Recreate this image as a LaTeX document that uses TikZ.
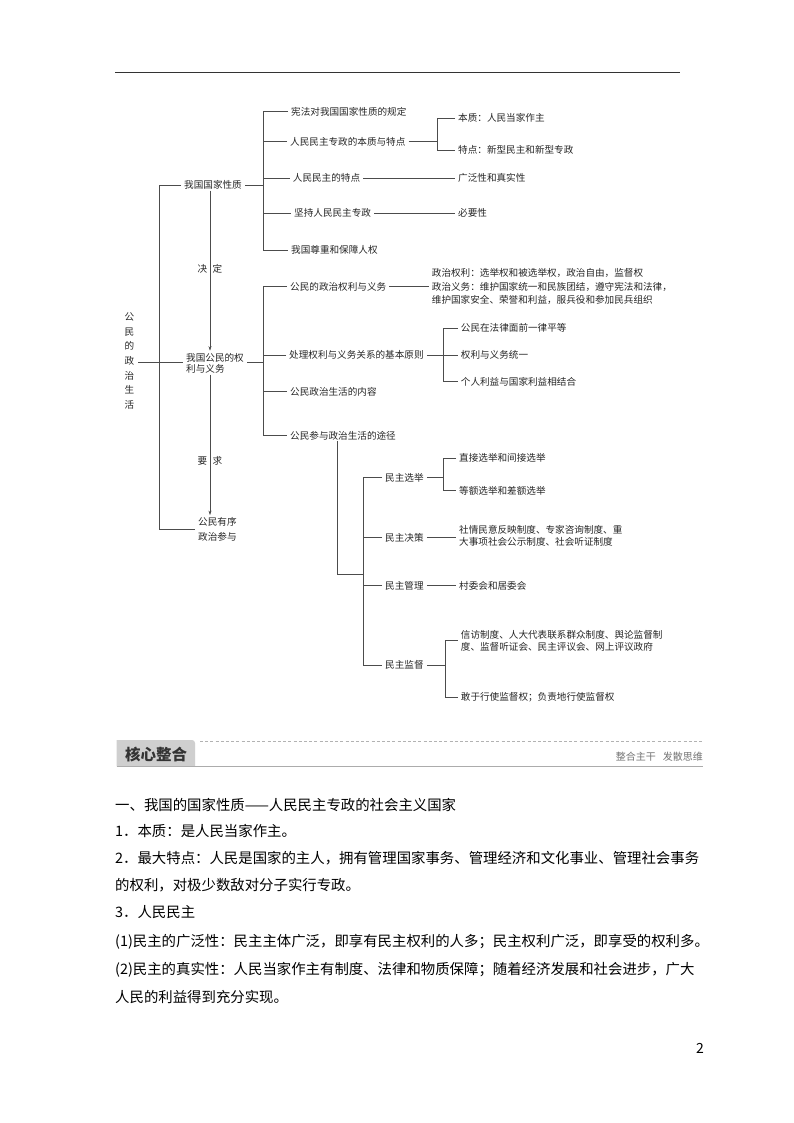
\documentclass[tikz,border=0pt]{standalone}
\usepackage{fontspec}
\setmainfont{Noto Sans CJK SC}
\usetikzlibrary{arrows.meta}
\newcommand\treefont{\fontsize{9.6}{11.7}\selectfont}
\tikzset{
  tx/.style={anchor=west, inner xsep=3pt, inner ysep=1pt, font=\treefont, align=left, text=black!85},
  ln/.style={draw=black!70, line width=0.5pt},
  arr/.style={ln, -{Stealth[length=4.5pt,width=3pt]}},
  bt/.style={anchor=west, inner sep=0pt, font=\fontsize{14.4}{17}\selectfont, text=black},
}
\begin{document}
\begin{tikzpicture}[x=1pt,y=-1pt]
\useasboundingbox (0,0) rectangle (794,1123);
\fill[white] (0,0) rectangle (794,1123);
% top rule
\draw[line width=0.7pt, black!80] (115,72) -- (680,72);

% ---------- tree ----------
\node[font=\fontsize{9.6}{14.7}\selectfont, align=center, inner xsep=4pt, inner ysep=1pt, text=black!85] (root) at (129.3,361) {公\\民\\的\\政\\治\\生\\活};

\node[tx] (xz) at (181,185) {我国国家性质};
\node[tx, font=\fontsize{9.6}{11.7}\selectfont] (qw) at (183,363.2) {我国公民的权\\利与义务};
\node[tx, font=\fontsize{9.6}{15}\selectfont] (cy) at (195,529.2) {公民有序\\政治参与};

\coordinate (L) at (159.3,0);
\draw[ln] (xz.west) -- (xz.west -| L) -- (cy.west -| L) -- (cy.west);
\draw[ln] (root.east |- 0,362.3) -- (qw.west |- 0,362.3);

\coordinate (A) at (210,0);
\draw[arr] (xz.south -| A) -- ([yshift=1pt]qw.north -| A);
\draw[arr] (qw.south -| A) -- ([yshift=1pt]cy.north -| A);
\node[font=\treefont, text=black!85, inner sep=0pt] (jd) at (210,269) {决\hspace{5.4pt}定};
\node[font=\treefont, text=black!85, inner sep=0pt] (yq) at (210,460.7) {要\hspace{5.4pt}求};

% branch 1: national nature
\coordinate (B1) at (263.3,0);
\node[tx] (c1) at (288,111.7) {宪法对我国国家性质的规定};
\node[tx] (c2) at (287,141.7) {人民民主专政的本质与特点};
\node[tx] (c3) at (289.7,178) {人民民主的特点};
\node[tx] (c4) at (291,213) {坚持人民民主专政};
\node[tx] (c5) at (288,250) {我国尊重和保障人权};
\draw[ln] (c1.west) -- (c1.west -| B1) -- (c5.west -| B1) -- (c5.west);
\foreach \n in {c2,c3,c4} \draw[ln] (\n.west) -- (\n.west -| B1);
\draw[ln] (xz.east) -- (xz.east -| B1);

\coordinate (B2) at (437,0);
\node[tx] (d1) at (455,118) {本质：人民当家作主};
\node[tx] (d2) at (455,150) {特点：新型民主和新型专政};
\draw[ln] (c2.east) -- (c2.east -| B2);
\draw[ln] (d1.west) -- (d1.west -| B2) -- (d2.west -| B2) -- (d2.west);

\node[tx] (e1) at (455,178) {广泛性和真实性};
\node[tx] (e2) at (455,213) {必要性};
\draw[ln] (c3.east) -- (e1.west);
\draw[ln] (c4.east) -- (e2.west);

% branch 2: rights and duties
\coordinate (B3) at (263.3,0);
\node[tx] (f1) at (287,286.7) {公民的政治权利与义务};
\node[tx] (f2) at (286,355) {处理权利与义务关系的基本原则};
\node[tx] (f3) at (287,391.7) {公民政治生活的内容};
\node[tx] (f4) at (287,435.7) {公民参与政治生活的途径};
\draw[ln] (f1.west) -- (f1.west -| B3) -- (f4.west -| B3) -- (f4.west);
\foreach \n in {f2,f3} \draw[ln] (\n.west) -- (\n.west -| B3);
\draw[ln] (qw.east |- 0,362.3) -- (B3 |- 0,362.3);

\node[tx, font=\fontsize{9.6}{13.3}\selectfont] (g1) at (428.7,286.7) {政治权利：选举权和被选举权，政治自由，监督权\\政治义务：维护国家统一和民族团结，遵守宪法和法律，\\维护国家安全、荣誉和利益，服兵役和参加民兵组织};
\draw[ln] (f1.east) -- (f1.east -| g1.west);

\coordinate (B4) at (443,0);
\node[tx] (h1) at (457.7,328.3) {公民在法律面前一律平等};
\node[tx] (h2) at (457.7,355) {权利与义务统一};
\node[tx] (h3) at (457.7,381.7) {个人利益与国家利益相结合};
\draw[ln] (f2.east) -- (f2.east -| B4);
\draw[ln] (h1.west) -- (h1.west -| B4) -- (h3.west -| B4) -- (h3.west);
\draw[ln] (h2.west) -- (h2.west -| B4);

% ways of participation
\coordinate (V) at (337.5,0);
\coordinate (q) at (363,574.3);
\draw[ln] (f4.south -| V) -- (V |- q) -- (q);

\node[tx] (i1) at (382,477.7) {民主选举};
\node[tx] (i2) at (382,537.7) {民主决策};
\node[tx] (i3) at (382,585.7) {民主管理};
\node[tx] (i4) at (382,665) {民主监督};
\draw[ln] (i1.west) -- (i1.west -| q) -- (i4.west -| q) -- (i4.west);
\foreach \n in {i2,i3} \draw[ln] (\n.west) -- (\n.west -| q);

\coordinate (B6) at (443.3,0);
\node[tx] (j1) at (456,458.3) {直接选举和间接选举};
\node[tx] (j2) at (456,490.7) {等额选举和差额选举};
\draw[ln] (i1.east) -- (i1.east -| B6);
\draw[ln] (j1.west) -- (j1.west -| B6) -- (j2.west -| B6) -- (j2.west);

\node[tx] (k1) at (456,535.8) {社情民意反映制度、专家咨询制度、重\\大事项社会公示制度、社会听证制度};
\draw[ln] (i2.east) -- (i2.east -| k1.west);

\node[tx] (l1) at (456,585.7) {村委会和居委会};
\draw[ln] (i3.east) -- (l1.west);

\coordinate (B7) at (445,0);
\node[tx] (m1) at (457.7,640.8) {信访制度、人大代表联系群众制度、舆论监督制\\度、监督听证会、民主评议会、网上评议政府};
\node[tx] (m2) at (457.7,697.3) {敢于行使监督权；负责地行使监督权};
\draw[ln] (i4.east) -- (i4.east -| B7);
\draw[ln] (m1.west |- 0,640) -- (B7 |- 0,640) -- (m2.west -| B7) -- (m2.west);

% ---------- banner ----------
\fill[gray!38] (116.7,766) -- (116.7,740) -- (192,740) to[out=0,in=90] (195,743) -- (195,766) -- cycle;
\node[font=\fontsize{15.5}{17}\selectfont\bfseries, text=black!80, inner sep=0pt] (hx) at (156,754.5) {核心整合};
\draw[gray!60, line width=0.9pt, dash pattern=on 3pt off 2.2pt] (200,741) -- (703,741);
\draw[gray!65, line width=1.6pt] (116.7,766.5) -- (703,766.5);
\node[anchor=east, font=\fontsize{10}{12}\selectfont, text=black!55, inner sep=0pt] (zh) at (703,756.7) {整合主干\hspace{7pt}发散思维};

% ---------- body text ----------
\node[bt] (t1) at (115,805) {一、我国的国家性质——人民民主专政的社会主义国家};
\node[bt] (t2) at (115,831) {1．本质：是人民当家作主。};
\node[bt] (t3) at (115,858) {2．最大特点：人民是国家的主人，拥有管理国家事务、管理经济和文化事业、管理社会事务};
\node[bt] (t4) at (115,885) {的权利，对极少数敌对分子实行专政。};
\node[bt] (t5) at (115,912) {3．人民民主};
\node[bt] (t6) at (115,942) {(1)民主的广泛性：民主主体广泛，即享有民主权利的人多；民主权利广泛，即享受的权利多。};
\node[bt] (t7) at (115,970) {(2)民主的真实性：人民当家作主有制度、法律和物质保障；随着经济发展和社会进步，广大};
\node[bt] (t8) at (115,997) {人民的利益得到充分实现。};
\node[anchor=east, inner sep=0pt, font=\fontsize{14}{16}\selectfont] (pg) at (704,1048) {2};
\end{tikzpicture}
\end{document}
